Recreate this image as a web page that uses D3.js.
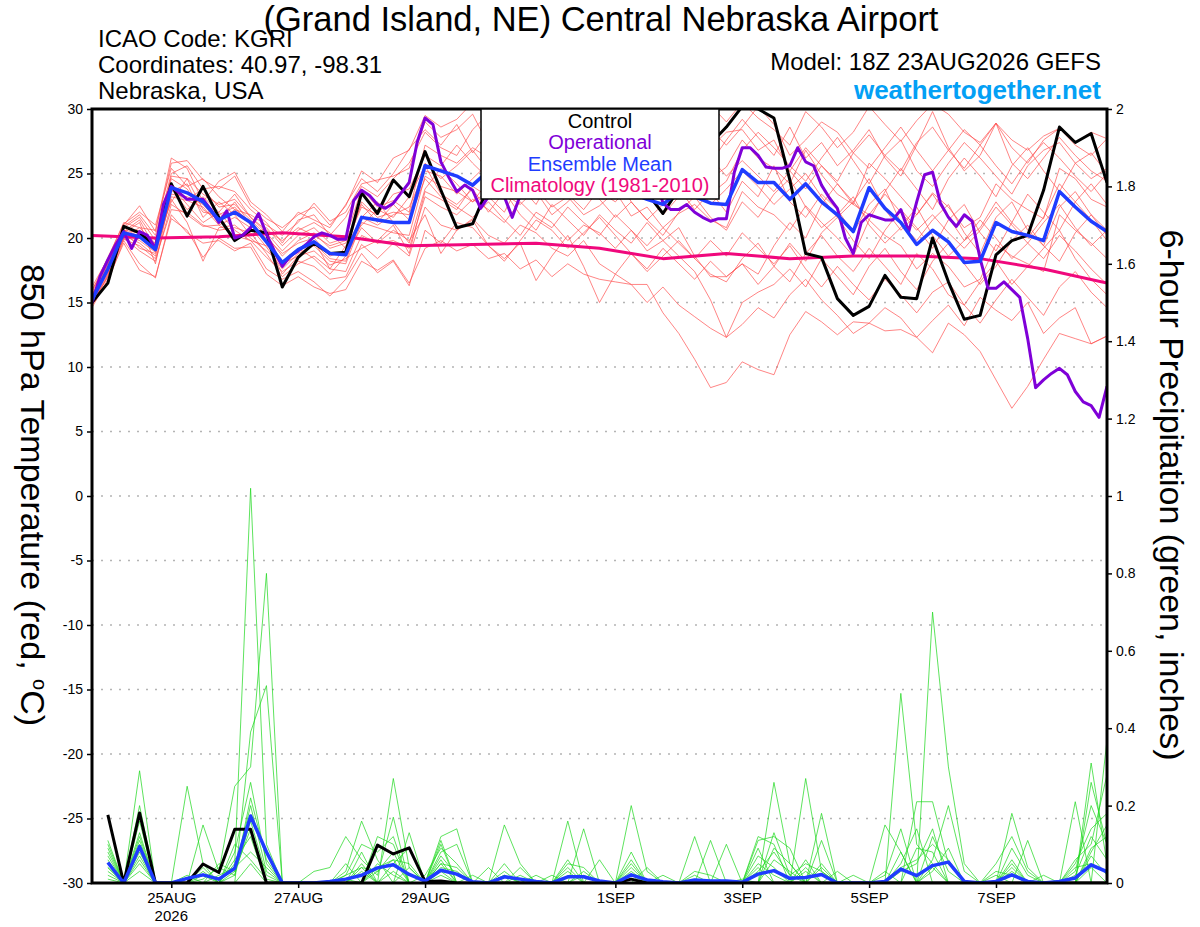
<!DOCTYPE html>
<html>
<head>
<meta charset="utf-8">
<script src="https://cdn.jsdelivr.net/npm/d3@7"></script>
<style>
  body { margin: 0; background: #fff; }
  text { font-family: "Liberation Sans", Arial, Helvetica, sans-serif; }
</style>
</head>
<body>
<div id="chart"></div>
<script>
/* ---------- data ---------- */
// run start 18Z 23AUG2026, 6-hourly steps (65 temps, 64 precip totals)
var runStart = Date.UTC(2026, 7, 23, 18);

var dateTicks = ["2026-08-25", "2026-08-27", "2026-08-29", "2026-09-01", "2026-09-03", "2026-09-05", "2026-09-07"];
var tempTicks = [-30, -25, -20, -15, -10, -5, 0, 5, 10, 15, 20, 25, 30];
var precipTicks = [0, 0.2, 0.4, 0.6, 0.8, 1, 1.2, 1.4, 1.6, 1.8, 2];

// 850 hPa temperature, control run
var controlT = [15.0, 16.5, 20.9, 20.4, 19.3, 24.2, 21.7, 24.0, 21.6, 19.8, 20.6, 20.4, 16.2, 18.5, 19.6, 18.8, 18.9, 23.5, 21.9, 24.5, 23.2, 26.7, 23.7, 20.8, 21.1,
  24.0, 25.2, 24.6, 26.0, 25.3, 26.4, 25.6, 24.8, 25.5, 24.8, 23.5, 21.9, 23.8, 25.4, 27.3, 28.6,
  30.2, 30.0, 29.3, 24.5, 18.8, 18.5, 15.3, 14.0, 14.7, 17.1, 15.4, 15.3, 20.0, 16.6, 13.7, 14.0, 18.7, 19.8, 20.2, 23.7, 28.6, 27.4, 28.1, 24.3];

// ensemble mean
var meanT = [15.2, 17.6, 20.4, 20.1, 19.1, 23.9, 23.5, 22.8, 21.4, 22.0, 21.2, 19.7, 18.1, 19.1, 19.7, 18.8, 18.7, 21.6, 21.4, 21.2, 21.2, 25.6, 25.2, 24.8, 24.1,
  25.2, 24.8, 24.4, 24.9, 24.3, 24.6, 24.0, 23.7, 24.2, 23.5, 23.0, 22.6, 23.6, 23.2, 22.7, 22.6,
  25.3, 24.3, 24.3, 23.0, 24.2, 22.8, 21.8, 20.5, 23.9, 22.3, 21.2, 19.5, 20.6, 19.7, 18.1, 18.2, 21.2, 20.5, 20.2, 19.8, 23.6, 22.4, 21.3, 20.5];

// operational run, 3-hourly (129 values)
var operT = [15.0, 17.0, 18.3, 19.5, 20.5, 19.2, 20.5, 20.2, 19.2, 22.6, 24.0, 23.5, 23.0, 23.0, 23.0, 22.2,
  21.2, 22.1, 20.0, 20.2, 20.8, 21.9, 20.3, 19.0, 17.8, 18.6, 19.0, 19.5, 20.1, 20.4, 20.2, 19.9,
  19.9, 22.9, 23.7, 23.3, 22.6, 22.3, 22.7, 23.5, 24.3, 27.4, 29.3, 28.8, 25.9, 24.7, 23.6, 24.1,
  23.7, 22.3, 23.2, 23.8, 23.2, 21.6, 23.3, 24.0, 25.0, 24.5, 25.3, 26.0, 25.5, 26.4, 27.0, 26.2,
  27.0, 27.8, 27.2, 28.0, 29.0, 30.2, 28.5, 25.0, 22.7, 22.2, 22.2, 22.6, 22.0, 21.6, 21.3, 21.5,
  21.5, 25.1, 27.0, 27.0, 26.4, 25.5, 25.4, 25.4, 25.6, 27.0, 25.9, 25.6, 24.1, 23.1, 22.3, 20.0,
  18.8, 21.2, 21.8, 21.6, 21.4, 21.4, 22.2, 20.5, 22.8, 24.9, 25.1, 22.7, 21.6, 20.9, 21.8, 21.3,
  18.4, 16.1, 16.1, 16.6, 16.0, 15.4, 12.2, 8.4, 9.0, 9.5, 9.9, 9.4, 8.1, 7.3, 7.0, 6.1,
  8.5];

// 1981-2010 climatology, one value per day at 18Z
var climT = [20.2, 20.0, 20.1, 20.4, 20.1, 19.4, 19.5, 19.6, 19.2, 18.4, 18.8, 18.4, 18.6, 18.6, 18.4, 17.6, 16.5];

// ensemble members
var memberT = [
  [15.8, 18.2, 21.0, 22.5, 20.5, 25.8, 26.0, 24.5, 23.8, 24.8, 22.5, 21.5, 20.8, 21.8, 22.4, 21.0, 22.5, 25.2, 24.3, 26.2, 26.8,
   29.5, 28.6, 29.2, 30.5, 29.8, 28.4, 29.6, 30.4, 28.8, 27.9, 29.5, 30.2, 28.4, 27.6, 28.8, 29.4, 28.2, 29.6, 30.3, 29.0,
   30.5, 29.3, 28.4, 27.2, 29.8, 28.6, 27.0, 28.2, 30.2, 28.8, 27.5, 29.1, 30.4, 29.6, 28.2, 27.4, 28.9, 27.6, 26.8, 27.9, 28.5, 27.2, 26.4, 27.7],
  [14.6, 16.8, 19.6, 17.5, 17.0, 21.5, 20.6, 18.5, 20.0, 19.2, 19.3, 17.2, 16.3, 17.0, 16.2, 15.7, 16.0, 18.2, 17.5, 18.3, 16.5,
   19.2, 19.8, 19.0, 19.5, 18.4, 18.8, 17.6, 18.3, 17.0, 18.0, 17.2, 16.8, 16.6, 16.4, 16.4, 14.2, 12.6, 10.6, 8.4, 8.8,
   10.4, 9.8, 9.4, 12.5, 14.3, 13.5, 12.5, 13.5, 13.4, 12.8, 12.9, 12.3, 11.1, 13.4, 12.5, 11.2, 9.0, 6.8, 8.5, 10.6, 12.6, 12.2, 11.8, 12.4],
  [15.0, 17.2, 20.0, 19.0, 18.2, 22.6, 21.8, 20.9, 21.0, 20.2, 19.8, 18.5, 17.4, 18.2, 17.8, 16.8, 17.0, 19.5, 18.4, 19.6, 18.6,
   22.4, 21.0, 20.6, 21.5, 20.2, 19.6, 21.0, 20.4, 19.2, 18.6, 19.8, 18.0, 17.2, 16.4, 15.0, 16.2, 14.8, 13.9, 13.0, 12.3,
   13.3, 14.6, 13.8, 15.6, 16.8, 15.2, 14.0, 12.6, 13.4, 14.6, 13.8, 12.3, 13.6, 14.8, 13.2, 15.4, 14.4, 13.6, 15.0, 12.6, 13.8, 14.6, 11.8, 12.4],
  [15.5, 17.9, 20.8, 21.6, 19.8, 24.8, 24.6, 23.4, 22.6, 23.0, 21.6, 20.4, 19.0, 20.2, 20.8, 19.6, 20.0, 23.8, 22.4, 22.9, 22.0,
   27.2, 26.4, 25.8, 27.0, 26.2, 25.1, 26.8, 27.5, 25.6, 26.4, 25.2, 24.4, 25.8, 26.6, 24.8, 23.9, 25.4, 26.2, 24.6, 25.5,
   27.6, 26.2, 25.4, 24.2, 26.8, 24.9, 23.4, 22.6, 25.8, 24.6, 23.2, 21.8, 23.5, 22.4, 20.8, 21.6, 24.2, 23.0, 22.2, 21.5, 25.4, 24.6, 23.0, 22.4],
  [15.1, 17.4, 20.2, 19.6, 18.6, 23.2, 22.9, 22.4, 21.0, 21.6, 20.8, 19.3, 17.6, 18.8, 19.4, 18.2, 18.0, 21.2, 20.8, 20.4, 20.2,
   24.8, 24.0, 23.6, 22.8, 24.4, 23.4, 22.6, 23.8, 22.4, 23.2, 21.8, 22.5, 23.6, 21.7, 22.4, 20.8, 21.9, 22.6, 21.4, 20.8,
   23.6, 22.4, 21.8, 20.6, 22.5, 21.2, 20.0, 18.6, 21.4, 20.2, 19.4, 17.6, 18.8, 17.8, 16.2, 16.8, 19.5, 18.6, 18.0, 17.4, 21.8, 20.6, 19.6, 18.4],
  [16.2, 18.4, 21.2, 20.8, 20.6, 26.2, 25.4, 22.8, 24.4, 25.1, 22.8, 21.8, 20.5, 22.0, 21.4, 20.8, 22.6, 24.6, 23.6, 25.0, 26.9,
   28.4, 27.2, 28.8, 26.6, 28.2, 30.2, 27.4, 26.8, 29.0, 28.2, 26.4, 28.6, 27.8, 25.6, 27.2, 26.0, 28.4, 27.2, 25.8, 27.6,
   29.2, 27.8, 26.4, 28.6, 26.2, 27.4, 25.6, 26.8, 28.4, 26.2, 24.8, 27.2, 29.8, 27.0, 25.2, 26.4, 28.9, 25.8, 24.6, 26.2, 27.8, 26.4, 25.2, 24.4],
  [14.8, 16.6, 19.8, 18.0, 16.9, 21.8, 20.4, 19.6, 19.8, 19.0, 19.6, 17.6, 16.8, 17.4, 16.6, 15.5, 16.8, 18.8, 17.3, 18.2, 16.3,
   20.6, 19.6, 21.2, 20.8, 19.4, 18.2, 19.8, 21.4, 20.6, 19.2, 20.4, 21.6, 20.2, 18.8, 17.4, 18.6, 19.8, 18.4, 17.2, 16.6,
   18.4, 19.6, 17.8, 16.6, 18.8, 20.2, 18.6, 17.4, 19.2, 17.8, 16.4, 18.8, 17.6, 15.6, 14.8, 16.6, 18.2, 16.4, 17.8, 19.2, 20.6, 18.4, 16.8, 15.6],
  [15.3, 17.6, 20.6, 20.4, 19.4, 24.2, 23.0, 23.8, 22.4, 22.6, 21.4, 20.2, 18.6, 19.8, 20.4, 19.2, 19.6, 22.4, 21.8, 23.4, 23.8,
   26.4, 25.6, 27.2, 25.8, 24.6, 26.4, 25.2, 24.2, 26.2, 25.4, 23.8, 24.6, 26.4, 25.0, 23.6, 24.8, 26.2, 24.8, 23.4, 24.4,
   26.8, 28.2, 27.0, 25.6, 24.4, 26.2, 27.8, 26.0, 24.2, 26.4, 27.6, 25.2, 24.0, 25.8, 27.4, 26.2, 24.8, 23.4, 25.6, 26.8, 27.4, 25.8, 24.6, 25.4],
  [15.6, 18.0, 20.4, 21.2, 18.0, 23.6, 24.2, 21.6, 22.8, 21.8, 20.2, 20.8, 19.4, 20.6, 21.2, 20.4, 19.2, 21.6, 22.8, 21.2, 19.6,
   23.8, 25.4, 24.2, 22.8, 23.6, 25.4, 24.0, 22.6, 24.8, 23.4, 22.2, 23.8, 25.2, 22.8, 21.4, 22.6, 23.8, 22.2, 23.6, 22.0,
   24.4, 23.2, 25.6, 22.8, 21.6, 23.4, 22.2, 20.4, 22.6, 23.8, 21.2, 19.8, 21.4, 22.6, 20.4, 18.8, 21.6, 22.8, 20.6, 19.4, 22.4, 23.6, 21.8, 20.2],
  [15.0, 17.0, 19.9, 19.4, 18.4, 22.2, 22.0, 21.0, 20.6, 20.8, 20.4, 18.8, 17.0, 18.0, 18.6, 17.6, 17.4, 20.2, 19.6, 19.8, 19.2,
   23.2, 22.4, 21.8, 23.0, 22.2, 21.2, 22.8, 21.6, 20.8, 22.4, 21.2, 20.2, 21.8, 20.6, 19.4, 20.8, 19.6, 18.4, 19.8, 18.6,
   20.4, 19.2, 18.0, 19.4, 17.6, 16.2, 17.8, 16.4, 15.2, 16.8, 15.6, 14.2, 15.8, 16.6, 14.8, 13.4, 15.2, 16.8, 15.4, 14.0, 16.2, 17.4, 15.8, 14.6],
  [15.9, 18.5, 21.1, 22.0, 21.0, 25.4, 24.0, 24.6, 23.2, 22.2, 21.8, 21.0, 20.2, 21.2, 22.7, 21.3, 22.0, 24.2, 24.5, 24.8, 25.4,
   29.0, 27.8, 28.4, 29.6, 27.2, 28.6, 29.8, 28.0, 27.4, 29.2, 28.4, 27.0, 28.6, 29.4, 27.2, 26.4, 27.8, 28.8, 27.0, 28.2,
   28.4, 26.8, 27.6, 25.2, 23.8, 25.6, 24.2, 22.6, 21.8, 23.4, 22.0, 20.6, 21.8, 20.4, 19.2, 20.6, 22.4, 21.0, 19.6, 18.4, 20.2, 19.0, 17.6, 16.4],
  [14.8, 17.0, 20.0, 20.6, 19.0, 23.0, 21.2, 18.2, 20.8, 21.0, 20.0, 19.0, 18.0, 18.6, 19.0, 17.9, 18.4, 19.2, 19.8, 21.0, 18.8,
   23.6, 23.0, 22.2, 24.0, 23.2, 22.0, 24.4, 23.6, 21.8, 22.8, 24.2, 23.0, 21.6, 22.8, 21.4, 20.2, 22.0, 23.2, 21.6, 20.6,
   22.8, 21.6, 23.4, 24.6, 22.4, 20.8, 21.8, 23.2, 21.0, 19.6, 20.8, 22.4, 20.2, 18.6, 19.8, 21.4, 20.0, 18.4, 19.6, 21.2, 22.6, 20.8, 19.4, 20.6],
  [15.4, 17.8, 20.6, 20.0, 19.6, 24.6, 23.8, 22.0, 21.8, 22.4, 21.0, 20.0, 18.8, 19.6, 20.0, 18.6, 19.0, 22.8, 21.6, 22.0, 21.8,
   25.8, 24.6, 25.6, 26.8, 25.2, 24.2, 25.8, 26.6, 24.4, 25.2, 26.2, 25.0, 24.0, 25.6, 26.4, 24.6, 23.8, 25.0, 26.2, 24.8,
   26.0, 24.8, 23.6, 25.2, 27.0, 25.6, 24.4, 26.6, 28.0, 26.4, 25.2, 27.4, 28.6, 26.8, 25.4, 27.2, 28.9, 27.0, 25.8, 27.6, 28.5, 27.4, 28.2, 27.7],
  [15.2, 17.3, 20.3, 19.8, 18.9, 23.4, 23.2, 22.6, 21.2, 22.2, 21.2, 19.6, 17.8, 19.0, 19.6, 18.4, 18.2, 21.6, 21.0, 21.8, 22.4,
   25.2, 24.8, 23.4, 24.6, 25.8, 23.8, 24.6, 25.4, 23.2, 24.0, 25.0, 23.6, 22.8, 24.2, 23.4, 21.8, 23.2, 24.4, 22.6, 23.8,
   25.2, 24.0, 22.6, 23.8, 25.0, 23.2, 21.6, 22.8, 24.6, 22.2, 20.6, 21.8, 23.4, 21.6, 19.8, 20.8, 22.8, 21.2, 20.0, 21.6, 24.2, 22.8, 21.4, 19.8],
  [15.4, 17.7, 20.5, 21.4, 19.2, 24.0, 22.6, 21.2, 22.0, 20.6, 19.8, 19.4, 18.2, 19.2, 18.4, 17.2, 18.6, 20.8, 19.6, 20.6, 19.8,
   21.8, 18.8, 20.6, 21.4, 19.4, 18.4, 19.6, 16.7, 18.6, 20.2, 17.8, 15.0, 17.2, 18.8, 17.6, 19.2, 18.0, 16.8, 18.2, 17.0,
   18.0, 16.4, 17.8, 19.6, 18.2, 20.4, 21.6, 19.8, 18.4, 20.6, 22.2, 20.8, 19.2, 21.4, 22.6, 20.4, 19.0, 21.2, 23.4, 22.0, 20.6, 22.8, 24.2, 22.6],
  [15.6, 17.5, 20.6, 19.2, 18.8, 23.8, 22.2, 23.2, 22.0, 23.4, 21.6, 20.6, 19.8, 20.8, 20.2, 19.4, 19.8, 22.6, 21.2, 22.6, 21.4,
   24.6, 23.2, 22.4, 21.6, 22.8, 21.4, 20.2, 22.0, 21.2, 19.8, 21.0, 20.4, 19.2, 20.6, 19.0, 19.8, 18.6, 17.4, 15.2, 12.3,
   15.0, 15.8, 16.4, 17.6, 16.2, 18.4, 17.0, 15.6, 17.8, 19.2, 17.4, 16.0, 18.2, 19.6, 18.0, 16.4, 17.8, 19.8, 21.0, 19.4, 18.2, 20.4, 21.8, 20.6],
  [14.9, 17.1, 20.1, 20.8, 19.6, 22.8, 24.6, 22.2, 21.4, 22.8, 21.0, 19.8, 17.2, 18.6, 19.8, 17.6, 19.4, 21.0, 22.2, 21.6, 23.2,
   25.6, 23.4, 22.6, 23.8, 22.0, 23.6, 21.8, 20.6, 22.6, 21.4, 20.2, 21.8, 20.6, 19.6, 21.2, 19.8, 20.8, 18.6, 17.0, 17.0,
   18.0, 17.2, 19.4, 21.2, 20.0, 22.6, 24.2, 22.8, 21.4, 23.6, 25.4, 23.8, 22.2, 24.6, 26.2, 24.8, 23.2, 25.6, 27.0, 25.2, 23.6, 25.8, 26.6, 25.0],
  [16.0, 18.0, 20.9, 21.8, 20.2, 25.0, 25.6, 23.8, 24.0, 23.6, 22.2, 21.2, 19.6, 21.4, 21.8, 20.2, 21.6, 24.0, 23.2, 24.6, 25.8,
   28.2, 27.0, 26.4, 28.4, 29.6, 27.6, 28.8, 30.2, 29.0, 27.4, 28.6, 29.8, 27.6, 26.8, 28.2, 27.0, 29.4, 30.6, 28.4, 27.2,
   28.6, 30.2, 28.8, 26.4, 27.6, 29.0, 28.2, 26.6, 25.4, 27.0, 28.6, 26.8, 25.2, 26.8, 28.4, 27.2, 25.6, 24.2, 26.0, 27.4, 26.2, 24.8, 23.6, 25.0]
];

// 6-hour precipitation (inches), 24AUG 00Z .. 8SEP 18Z
var controlP = [0.176, 0, 0.181, 0, 0, 0, 0.049, 0.027,
  0.139, 0.139, 0, 0, 0, 0, 0, 0,
  0, 0.098, 0.075, 0.091, 0.004, 0.005, 0, 0,
  0, 0, 0, 0, 0, 0, 0, 0,
  0, 0.01, 0, 0, 0, 0, 0, 0,
  0, 0, 0, 0, 0, 0, 0, 0,
  0, 0, 0, 0, 0, 0, 0, 0,
  0, 0, 0, 0, 0, 0, 0, 0];

var meanP = [0.053, 0, 0.094, 0, 0, 0.012, 0.021, 0.010,
  0.038, 0.173, 0.080, 0, 0, 0, 0.004, 0.010,
  0.020, 0.039, 0.047, 0.022, 0.005, 0.033, 0.023, 0.003,
  0, 0.016, 0.010, 0.004, 0, 0.016, 0.016, 0.005,
  0, 0.021, 0.008, 0.003, 0, 0.008, 0.005, 0.005,
  0.002, 0.023, 0.032, 0.012, 0.014, 0.022, 0, 0,
  0, 0.004, 0.036, 0.019, 0.045, 0.054, 0.004, 0,
  0.004, 0.021, 0.004, 0, 0.004, 0.013, 0.047, 0.029];

var memberP = [
  [.08, 0, .29, 0, 0, .02, 0, 0,   .05, 1.02, .10, 0, 0, 0, 0, 0,   .05, 0, .27, .04, 0, .05, 0, 0,   0, .02, 0, 0, 0, .16, 0, 0,
   0, .20, .03, 0, 0, 0, 0, 0,   0, 0, .26, .05, 0, 0, 0, 0,   0, 0, .49, .10, .05, 0, 0, 0,   0, .02, 0, 0, 0, 0, .31, .05],
  [.04, 0, .16, 0, 0, 0, .15, .03,   .25, .30, .80, 0, 0, 0, 0, 0,   0, .12, .10, 0, 0, .12, .14, 0,   0, 0, 0, 0, 0, 0, .14, 0,
   0, 0, 0, 0, 0, .12, 0, 0,   0, 0, 0, 0, .27, .03, 0, 0,   0, .03, 0, 0, .70, .30, .05, 0,   0, 0, 0, 0, 0, .21, 0, .37],
  [.10, 0, .12, 0, 0, .25, .05, 0,   0, .39, .51, 0, 0, 0, 0, .03,   .16, .06, 0, .13, 0, .10, 0, 0,   0, .15, .05, 0, 0, 0, 0, 0,
   0, .06, 0, 0, 0, 0, 0, 0,   0, .12, .10, 0, 0, .18, 0, 0,   0, 0, 0, .21, .21, .05, 0, 0,   0, .18, .04, 0, 0, 0, .26, .10],
  [.06, 0, .08, 0, 0, 0, .03, 0,   .08, .26, .05, 0, 0, 0, 0, .02,   .10, .08, .12, 0, 0, .11, 0, 0,   .04, 0, 0, 0, 0, .06, 0, 0,
   0, 0, 0, 0, 0, 0, .11, 0,   0, .11, .12, .09, 0, 0, 0, 0,   0, .15, .08, 0, 0, 0, 0, 0,   .05, .12, .03, 0, 0, .06, .10, .28],
  [.03, 0, .06, 0, 0, 0, 0, .05,   .03, .20, .03, 0, 0, 0, 0, 0,   .04, 0, .05, .09, 0, .08, .10, 0,   0, 0, .04, 0, 0, 0, .03, 0,
   0, 0, 0, 0, 0, 0, 0, .10,   0, .09, 0, 0, .06, 0, .03, 0,   0, 0, .08, 0, .12, .03, 0, 0,   0, .06, 0, .02, 0, 0, .08, .15],
  [.09, 0, .10, 0, 0, 0, .02, 0,   .06, .12, 0, 0, 0, 0, 0, .05,   0, .04, .06, 0, 0, .06, 0, .02,   0, 0, 0, 0, 0, .04, 0, 0,
   0, .08, 0, .02, 0, 0, 0, 0,   0, 0, .06, .03, 0, .04, 0, 0,   0, 0, .03, .05, .14, 0, 0, 0,   .02, 0, .11, 0, 0, .04, .05, .03],
  [.02, 0, .05, 0, 0, 0, 0, 0,   .02, .16, .02, 0, 0, 0, 0, 0,   .03, 0, 0, .04, 0, .03, 0, 0,   0, .05, 0, .02, 0, 0, 0, 0,
   0, .05, 0, 0, 0, .02, 0, 0,   0, .07, .04, 0, .04, 0, 0, 0,   0, 0, 0, 0, .06, .20, .03, 0,   0, .04, 0, 0, 0, .02, .12, .06],
  [.05, 0, .13, 0, 0, 0, 0, .02,   .04, .08, .04, 0, 0, 0, 0, .01,   0, .03, .08, 0, .02, .09, .05, 0,   0, 0, 0, 0, .02, 0, 0, 0,
   0, 0, .04, 0, 0, 0, 0, 0,   .01, 0, .13, .02, 0, .11, 0, 0,   0, 0, 0, .09, .08, 0, 0, 0,   0, .03, 0, 0, 0, 0, .07, .02],
  [.07, 0, .03, 0, 0, 0, 0, 0,   0, .05, 0, 0, 0, 0, 0, 0,   .08, 0, .03, 0, 0, .04, .03, 0,   0, 0, 0, 0, 0, .03, 0, 0,
   0, .02, 0, 0, 0, 0, 0, 0,   0, .04, 0, 0, .03, 0, 0, 0,   0, .02, .14, 0, .04, 0, 0, 0,   0, .05, 0, 0, 0, 0, .04, 0],
  [.01, 0, .20, 0, 0, 0, .04, 0,   .10, .06, .01, 0, 0, 0, 0, 0,   0, .05, .02, 0, 0, .02, 0, 0,   0, .03, 0, 0, 0, 0, .02, 0,
   0, 0, 0, 0, 0, 0, 0, 0,   0, .05, .02, 0, 0, .05, 0, 0,   0, 0, 0, 0, .03, .09, 0, 0,   0, 0, 0, 0, 0, .03, .20, .10],
  [.11, 0, .07, 0, 0, 0, 0, 0,   .03, .14, 0, 0, 0, .03, .04, .12,   .06, .02, .17, 0, 0, .07, .02, 0,   0, 0, .02, 0, 0, 0, 0, .06,
   0, .03, 0, 0, 0, 0, 0, 0,   0, 0, .09, .05, 0, 0, 0, .02,   0, 0, .05, .14, 0, 0, 0, 0,   .03, .02, 0, 0, 0, 0, .09, .12],
  [.04, 0, .11, 0, 0, 0, .01, .04,   .02, .22, .06, 0, 0, 0, 0, .02,   .04, .03, .06, .05, 0, .05, .04, 0,   0, .02, 0, 0, 0, .05, .04, 0,
   0, .04, 0, 0, 0, .03, .02, 0,   0, .03, .08, .02, .05, .03, 0, 0,   0, 0, .04, .06, .10, .06, 0, 0,   0, .09, .02, 0, 0, .05, .14, .18]
];

/* ---------- layout ---------- */
var width = 1200;
var height = 927;
var plotL = 92, plotR = 1107, plotT = 109, plotB = 883;

var HOUR = 3600 * 1000;
var times6 = d3.range(controlT.length).map(function(i){ return new Date(runStart + i * 6 * HOUR); });
var timesP = d3.range(controlP.length).map(function(i){ return new Date(runStart + (i + 1) * 6 * HOUR); });
var times3 = d3.range(operT.length).map(function(i){ return new Date(runStart + i * 3 * HOUR); });
var timesC = d3.range(climT.length).map(function(i){ return new Date(runStart + i * 24 * HOUR); });

var x = d3.scaleUtc().domain([times6[0], times6[times6.length - 1]]).range([plotL, plotR]);
var yT = d3.scaleLinear().domain([-30, 30]).range([plotB, plotT]);
var yP = d3.scaleLinear().domain([0, 2]).range([plotB, plotT]);

var svg = d3.select("#chart").append("svg")
            .attr("width", width)
            .attr("height", height);

svg.append("defs").append("clipPath").attr("id", "plotclip")
   .append("rect")
   .attr("x", plotL).attr("y", plotT)
   .attr("width", plotR - plotL).attr("height", plotB - plotT);

/*Grid*/
svg.append("g").selectAll("line")
   .data(tempTicks.filter(function(d){ return d > -30 && d < 30; }))
   .enter().append("line")
   .attr("x1", plotL).attr("x2", plotR)
   .attr("y1", function(d){ return yT(d); })
   .attr("y2", function(d){ return yT(d); })
   .attr("stroke", "#b4b4b4")
   .attr("stroke-width", 1.3)
   .attr("stroke-dasharray", "2,7");

var plot = svg.append("g").attr("clip-path", "url(#plotclip)");

function lineOn(times, yScale) {
  return d3.line()
           .x(function(d, i){ return x(times[i]); })
           .y(function(d){ return yScale(d); });
}

/*Members*/
plot.append("g").selectAll("path")
    .data(memberT).enter().append("path")
    .attr("d", lineOn(times6, yT))
    .attr("fill", "none")
    .attr("stroke", "#ff4a4a")
    .attr("stroke-opacity", 0.85)
    .attr("stroke-width", 0.8);

plot.append("g").selectAll("path")
    .data(memberP).enter().append("path")
    .attr("d", lineOn(timesP, yP))
    .attr("fill", "none")
    .attr("stroke", "#1ed81e")
    .attr("stroke-opacity", 0.9)
    .attr("stroke-width", 0.8);

/*Main lines*/
function mainLine(data, times, yScale, color, w) {
  plot.append("path")
      .datum(data)
      .attr("d", lineOn(times, yScale))
      .attr("fill", "none")
      .attr("stroke", color)
      .attr("stroke-width", w)
      .attr("stroke-linejoin", "round");
}
mainLine(controlP, timesP, yP, "#000000", 3);
mainLine(meanP, timesP, yP, "#1f3cff", 3.5);
mainLine(climT, timesC, yT, "#f0087c", 3);
mainLine(controlT, times6, yT, "#000000", 3);
mainLine(operT, times3, yT, "#7f00d8", 3);
mainLine(meanT, times6, yT, "#1f3cff", 3.5);

/*Axes*/
var axL = svg.append("g")
             .attr("transform", "translate(" + plotL + ",0)")
             .call(d3.axisLeft(yT).tickValues(tempTicks).tickSize(5).tickPadding(4)
                     .tickFormat(function(d){ return String(d); }));
var axR = svg.append("g")
             .attr("transform", "translate(" + plotR + ",0)")
             .call(d3.axisRight(yP).tickValues(precipTicks).tickSize(5).tickPadding(4)
                     .tickFormat(function(d){ return String(Math.round(d * 10) / 10); }));
var tickDates = dateTicks.map(function(s){ return new Date(s + "T00:00:00Z"); });
var axB = svg.append("g")
             .attr("transform", "translate(0," + plotB + ")")
             .call(d3.axisBottom(x).tickValues(tickDates).tickSize(5).tickPadding(4)
                     .tickFormat(function(d){ return d3.utcFormat("%-d%b")(d).toUpperCase(); }));

[axL, axR, axB].forEach(function(a){
  a.select(".domain").remove();
  a.selectAll(".tick line").attr("stroke", "#000").attr("stroke-width", 1.5);
  a.selectAll(".tick text")
   .attr("fill", "#000")
   .style("font-family", "'Liberation Sans', Arial, sans-serif")
   .style("font-size", "14px");
});
axB.selectAll(".tick text").style("font-size", "15px");

svg.append("text")
   .attr("x", x(tickDates[0])).attr("y", 921)
   .attr("text-anchor", "middle")
   .style("font-size", "15px")
   .text(d3.utcFormat("%Y")(tickDates[0]));

/*Frame*/
svg.append("rect")
   .attr("x", plotL).attr("y", plotT)
   .attr("width", plotR - plotL).attr("height", plotB - plotT)
   .attr("fill", "none")
   .attr("stroke", "#000")
   .attr("stroke-width", 3);

/*Legend*/
var leg = svg.append("g");
leg.append("rect")
   .attr("x", 481).attr("y", plotT)
   .attr("width", 238).attr("height", 90)
   .attr("fill", "#fff")
   .attr("stroke", "#000")
   .attr("stroke-width", 1.5);
var legendItems = [
  ["Control", "#000000"],
  ["Operational", "#7f00d8"],
  ["Ensemble Mean", "#1f3cff"],
  ["Climatology (1981-2010)", "#f0087c"]
];
leg.selectAll("text.item")
   .data(legendItems).enter().append("text")
   .attr("class", "item")
   .attr("x", 600)
   .attr("y", function(d, i){ return 128 + i * 21.3; })
   .attr("text-anchor", "middle")
   .attr("fill", function(d){ return d[1]; })
   .style("font-size", "20px")
   .text(function(d){ return d[0]; });

/*Titles*/
svg.append("text")
   .attr("x", 601).attr("y", 31)
   .attr("text-anchor", "middle")
   .style("font-size", "34.5px")
   .text("(Grand Island, NE) Central Nebraska Airport");

var info = ["ICAO Code: KGRI", "Coordinates: 40.97, -98.31", "Nebraska, USA"];
svg.selectAll("text.info")
   .data(info).enter().append("text")
   .attr("class", "info")
   .attr("x", 98)
   .attr("y", function(d, i){ return 47 + i * 26; })
   .style("font-size", "24px")
   .text(function(d){ return d; });

svg.append("text")
   .attr("x", 1101).attr("y", 70)
   .attr("text-anchor", "end")
   .style("font-size", "24px")
   .text("Model: 18Z 23AUG2026 GEFS");

svg.append("text")
   .attr("x", 1101).attr("y", 99)
   .attr("text-anchor", "end")
   .attr("fill", "#03a0f5")
   .style("font-size", "26px")
   .style("font-weight", "bold")
   .text("weathertogether.net");

var ltitle = svg.append("text")
   .attr("transform", "translate(21,495) rotate(90)")
   .attr("text-anchor", "middle")
   .style("font-size", "34px");
ltitle.append("tspan").text("850 hPa Temperature (red, ");
ltitle.append("tspan").attr("dy", -12).style("font-size", "20px").text("o");
ltitle.append("tspan").attr("dy", 12).text("C)");

svg.append("text")
   .attr("transform", "translate(1160,495) rotate(90)")
   .attr("text-anchor", "middle")
   .style("font-size", "34px")
   .text("6-hour Precipitation (green, inches)");
</script>
</body>
</html>
